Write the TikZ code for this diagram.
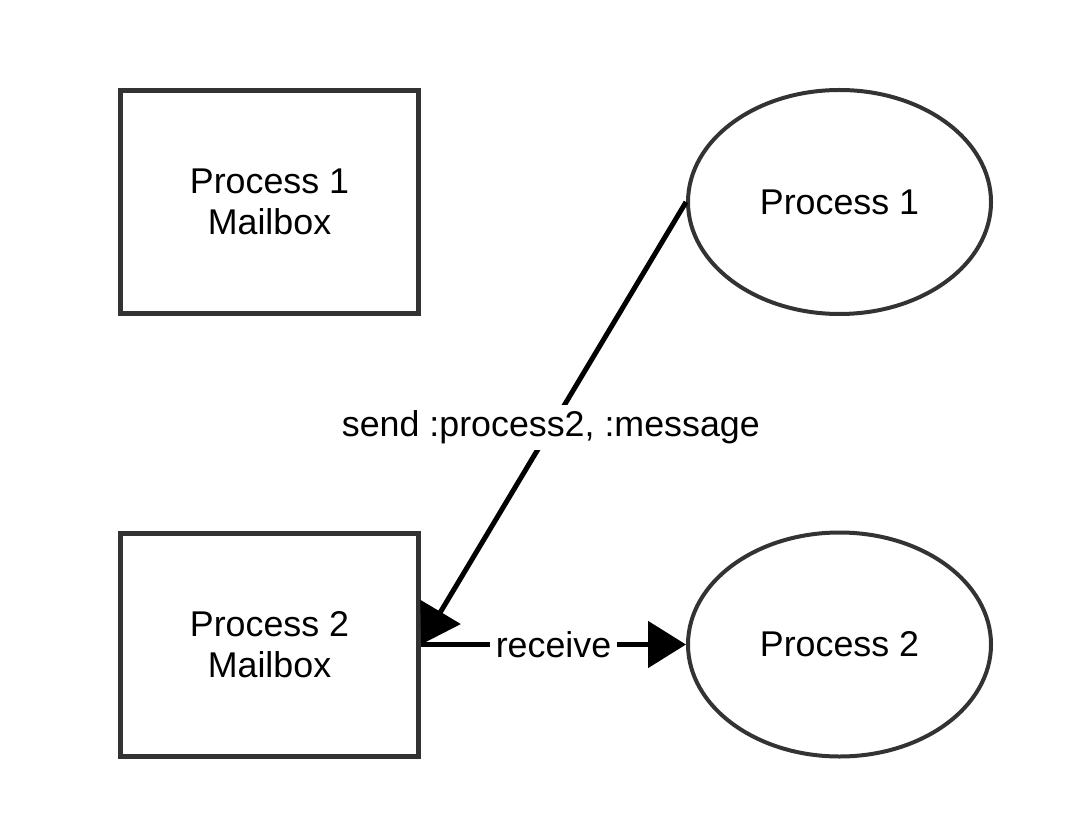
\documentclass[tikz,border=0pt]{standalone}
\usepackage{fontspec}
\setmainfont{Liberation Sans}
\usetikzlibrary{arrows.meta,shapes.geometric}
\definecolor{edgegray}{HTML}{333333}
\begin{document}
\begin{tikzpicture}[x=0.5pt,y=-0.5pt,
  mailbox/.style={draw=edgegray,line width=2.5pt,minimum width=149pt,minimum height=111.5pt,align=center,inner sep=0pt},
  proc/.style={draw=edgegray,line width=2pt,ellipse,minimum width=151.5pt,minimum height=112pt,inner sep=0pt},
  conn/.style={line width=2.5pt,-{Triangle[length=19pt,width=23pt]}},
  lbl/.style={fill=white,inner sep=3pt},
  every node/.style={font=\fontsize{17.9}{20.5}\selectfont}]
\useasboundingbox (0,0) rectangle (1068,817);
\node[mailbox] (m1) at (269.5,202) {Process 1\\Mailbox};
\node[mailbox] (m2) at (269.5,644.5) {Process 2\\Mailbox};
\node[proc] (p1) at (839.5,202) {Process 1};
\node[proc] (p2) at (839.5,644.5) {Process 2};
\draw[conn] (p1.west) -- node[lbl,pos=0.51] {send :process2, :message} (m2.east);
\draw[conn] (m2.east) -- node[lbl] {receive} (p2.west);
\end{tikzpicture}
\end{document}
